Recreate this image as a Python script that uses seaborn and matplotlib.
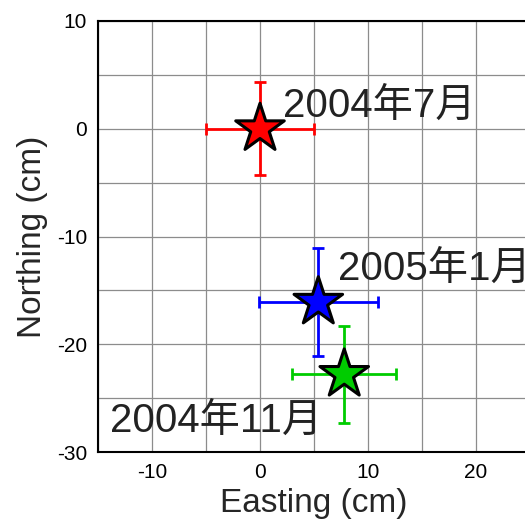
import matplotlib
matplotlib.use("Agg")
import matplotlib.pyplot as plt
import seaborn as sns
import pandas as pd

labels = ["2004年7月", "2004年11月", "2005年1月"]
easting = [0.0, 7.8, 5.4]
northing = [0.0, -22.8, -16.1]
x_err = [5.0, 4.8, 5.5]
y_err = [4.3, 4.5, 5.0]
colors = ["#ff0000", "#00cc00", "#0000ff"]
label_x = [2.1, -13.9, 7.2]
label_y = [2.1, -27.1, -13.0]

df = pd.DataFrame({"Easting": easting, "Northing": northing, "label": labels})

sns.set_theme(style="white")
plt.rcParams["font.family"] = ["Liberation Sans", "DejaVu Sans"]
plt.rcParams["axes.unicode_minus"] = False

fig = plt.figure(figsize=(5.25, 5.27), dpi=100)
ax = fig.add_axes([98 / 525, 75 / 527, 432 / 525, 431 / 527])

ax.set_xlim(-15, 25)
ax.set_ylim(-30, 10)
ax.set_xticks([-10, 0, 10, 20])
ax.set_yticks([-30, -20, -10, 0, 10])
ax.set_xticks(range(-15, 26, 5), minor=True)
ax.set_yticks(range(-30, 11, 5), minor=True)
ax.grid(True, which="both", color="#8c8c8c", linewidth=0.9)
ax.set_axisbelow(True)

for i in range(len(labels)):
    ax.errorbar(easting[i], northing[i], xerr=x_err[i], yerr=y_err[i],
                fmt="none", ecolor=colors[i], elinewidth=2, capsize=4,
                capthick=2, zorder=3)

sns.scatterplot(data=df, x="Easting", y="Northing", hue="label",
                palette=dict(zip(labels, colors)), marker="*", s=1350,
                edgecolor="black", linewidth=2.2, legend=False, ax=ax, zorder=4)

for i in range(len(labels)):
    ax.text(label_x[i], label_y[i], labels[i], ha="left", va="center",
            fontsize=29, color="#222222",
            family=["Liberation Sans", "Noto Sans CJK JP"], zorder=5)

for s in ax.spines.values():
    s.set_color("black")
    s.set_linewidth(1.5)

ax.tick_params(axis="both", which="major", labelsize=15, length=0, pad=8,
               colors="black")
ax.set_xlabel("Easting (cm)", fontsize=24, labelpad=4)
ax.set_ylabel("Northing (cm)", fontsize=24, labelpad=6)

fig.savefig("out.png", dpi=100)
